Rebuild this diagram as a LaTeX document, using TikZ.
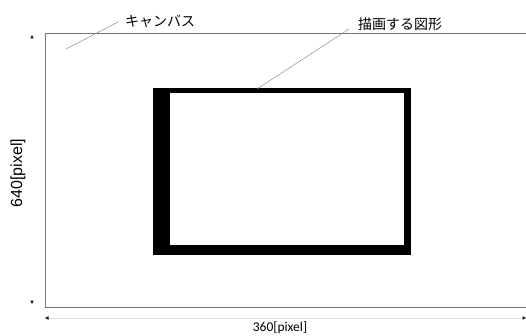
\documentclass[tikz,border=0pt]{standalone}
\usepackage{fontspec}
\setmainfont{Liberation Sans}
\newfontfamily\jpfont{Noto Sans CJK JP}
\newfontfamily\calfont{Carlito}
\usetikzlibrary{arrows.meta}
\tikzset{
  canvasline/.style={draw=black!55, line width=0.8pt},
  leader/.style={draw=black!45, line width=0.5pt},
  dimline/.style={draw=black!12, line width=0.6pt, {Triangle[length=3.5pt,width=3.5pt,black!85]}-{Triangle[length=3.5pt,width=3.5pt,black!85]}},
  lbl/.style={inner sep=0pt, anchor=center}
}
\begin{document}
\begin{tikzpicture}[x=1pt,y=-1pt]
\useasboundingbox (0,0) rectangle (526,336);
% canvas
\coordinate (ctr) at (526,33);
\coordinate (ctl) at (45,33);
\coordinate (cbl) at (45,307);
\coordinate (cbr) at (526,307);
\draw[canvasline] (ctr) -- (ctl) -- (cbl) -- (cbr);
% drawn shape
\fill[black] (153,88) rectangle (411,255);
\fill[white] (170,93) rectangle (404,245);
\coordinate (shapetop) at (257,89);
% dimension arrows
\coordinate (vt) at (32,35);
\coordinate (vb) at (32,304);
\draw[dimline, draw=white] (vt) -- (vb);
\coordinate (hl) at (45,318);
\coordinate (hr) at (526,318);
\draw[dimline] (hl) -- (hr);
% labels
\node[lbl, rotate=90, font=\fontsize{16}{16}\selectfont] (h) at (18,173) {640[pixel]};
\node[lbl, font=\calfont\fontsize{13.5}{13.5}\selectfont] (w) at (280,328) {360[pixel]};
\node[lbl, font=\jpfont\fontsize{14}{14}\selectfont] (cv) at (160,21) {キャンバス};
\node[lbl, font=\jpfont\fontsize{14}{14}\selectfont] (fig) at (400,24) {描画する図形};
% leaders
\coordinate (cvend) at (66,49);
\coordinate (cvstart) at (118,22);
\draw[leader] (cvstart) -- (cvend);
\coordinate (figstart) at (349,29);
\draw[leader] (figstart) -- (shapetop);
\end{tikzpicture}
\end{document}
